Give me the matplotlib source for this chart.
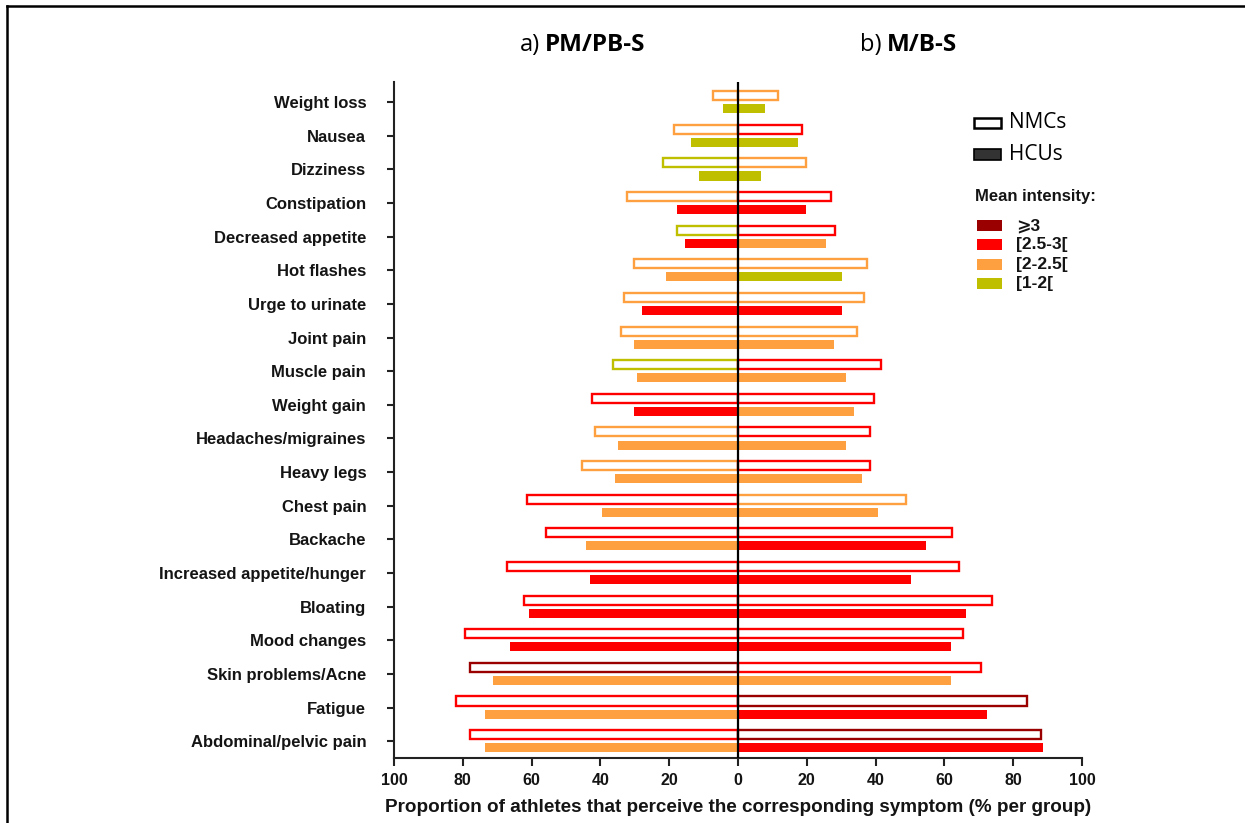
import matplotlib
matplotlib.use("Agg")
import matplotlib.pyplot as plt
from matplotlib.patches import Rectangle
from matplotlib.lines import Line2D

W, H = 1245, 823

symptoms = ["Weight loss", "Nausea", "Dizziness", "Constipation", "Decreased appetite",
            "Hot flashes", "Urge to urinate", "Joint pain", "Muscle pain", "Weight gain",
            "Headaches/migraines", "Heavy legs", "Chest pain", "Backache",
            "Increased appetite/hunger", "Bloating", "Mood changes", "Skin problems/Acne",
            "Fatigue", "Abdominal/pelvic pain"]

# a) PM/PB-S (left side)
pm_nmc = [7.3, 18.7, 21.8, 32.2, 17.6, 30.1, 33.0, 34.0, 36.4, 42.4,
          41.5, 45.4, 61.2, 55.9, 67.2, 62.2, 79.5, 77.8, 82.0, 77.8]
pm_nmc_int = ["2-2.5", "2-2.5", "1-2", "2-2.5", "1-2", "2-2.5", "2-2.5", "2-2.5", "1-2", "2.5-3",
              "2-2.5", "2-2.5", "2.5-3", "2.5-3", "2.5-3", "2.5-3", "2.5-3", "3", "2.5-3", "2.5-3"]
pm_hcu = [4.3, 13.8, 11.4, 17.6, 15.3, 20.8, 27.9, 30.1, 29.3, 30.3,
          35.0, 35.9, 39.6, 44.2, 42.9, 60.7, 66.4, 71.1, 73.6, 73.6]
pm_hcu_int = ["1-2", "1-2", "1-2", "2.5-3", "2.5-3", "2-2.5", "2.5-3", "2-2.5", "2-2.5", "2.5-3",
              "2-2.5", "2-2.5", "2-2.5", "2-2.5", "2.5-3", "2.5-3", "2.5-3", "2-2.5", "2-2.5", "2-2.5"]

# b) M/B-S (right side)
mb_nmc = [11.6, 18.6, 19.7, 27.0, 28.2, 37.4, 36.5, 34.5, 41.5, 39.4,
          38.4, 38.4, 48.8, 62.2, 64.2, 73.7, 65.3, 70.7, 84.1, 88.2]
mb_nmc_int = ["2-2.5", "2.5-3", "2-2.5", "2.5-3", "2.5-3", "2-2.5", "2-2.5", "2-2.5", "2.5-3", "2.5-3",
              "2.5-3", "2.5-3", "2-2.5", "2.5-3", "2.5-3", "2.5-3", "2.5-3", "2.5-3", "3", "3"]
mb_hcu = [7.9, 17.5, 6.6, 19.9, 25.5, 30.1, 30.1, 27.9, 31.5, 33.8,
          31.5, 36.1, 40.8, 54.7, 50.3, 66.4, 61.8, 61.8, 72.5, 88.8]
mb_hcu_int = ["1-2", "1-2", "1-2", "2.5-3", "2-2.5", "1-2", "2.5-3", "2-2.5", "2-2.5", "2-2.5",
              "2-2.5", "2-2.5", "2-2.5", "2.5-3", "2.5-3", "2.5-3", "2.5-3", "2-2.5", "2.5-3", "2.5-3"]

intensity_classes = ["3", "2.5-3", "2-2.5", "1-2"]
intensity_labels = ["\u2a7e3", "[2.5-3[", "[2-2.5[", "[1-2["]
COLORS = {"3": "#9b0000", "2.5-3": "#ff0000", "2-2.5": "#ffa040", "1-2": "#bfbf00"}

ticks = [-100, -80, -60, -40, -20, 0, 20, 40, 60, 80, 100]
tick_labels = ["100", "80", "60", "40", "20", "0", "20", "40", "60", "80", "100"]

BOLD = dict(family=["Liberation Sans", "DejaVu Sans"], fontweight="bold")
INK = "#141414"


def fx(px):
    return px / W


def fy(py):
    return 1 - py / H


fig = plt.figure(figsize=(W / 100, H / 100), dpi=100)
fig.patch.set_facecolor("white")
ax = fig.add_axes([fx(394), fy(758), fx(1082) - fx(394), fy(82) - fy(758)])

ys = list(range(len(symptoms)))
bh = 0.27
off = 0.195
lw_box = 1.7

# NMCs: open bars, HCUs: filled bars
ax.barh([y - off for y in ys], [-v for v in pm_nmc], height=bh, color="white",
        edgecolor=[COLORS[c] for c in pm_nmc_int], linewidth=lw_box)
ax.barh([y - off for y in ys], mb_nmc, height=bh, color="white",
        edgecolor=[COLORS[c] for c in mb_nmc_int], linewidth=lw_box)
ax.barh([y + off for y in ys], [-v for v in pm_hcu], height=bh,
        color=[COLORS[c] for c in pm_hcu_int], linewidth=0)
ax.barh([y + off for y in ys], mb_hcu, height=bh,
        color=[COLORS[c] for c in mb_hcu_int], linewidth=0)

ax.axvline(0, color="black", lw=1.6, zorder=5)

ax.set_xlim(-100, 100)
ax.set_ylim(len(symptoms) - 0.5, -0.6)
ax.set_yticks(ys)
ax.set_yticklabels(symptoms, fontsize=12, color=INK, **BOLD)
ax.set_xticks(ticks)
ax.set_xticklabels(tick_labels, fontsize=11.5, color=INK, **BOLD)
for s in ["top", "right"]:
    ax.spines[s].set_visible(False)
for s in ["left", "bottom"]:
    ax.spines[s].set_linewidth(1.5)
    ax.spines[s].set_color("#222222")
ax.tick_params(axis="y", length=5, width=1.5, pad=15, color="#222222")
ax.tick_params(axis="x", length=6, width=1.5, pad=5, color="#222222")
ax.set_xlabel("Proportion of athletes that perceive the corresponding symptom (% per group)",
              fontsize=13.6, labelpad=8, color=INK, **BOLD)

# panel titles
fig.text(fx(520), fy(45), "a)", fontsize=17, family="Open Sans", va="center", ha="left")
fig.text(fx(545), fy(45), "PM/PB-S", fontsize=17.5, family="Open Sans", fontweight="bold",
         va="center", ha="left")
fig.text(fx(860), fy(45), "b)", fontsize=17, family="Open Sans", va="center", ha="left")
fig.text(fx(887), fy(45), "M/B-S", fontsize=17.5, family="Open Sans", fontweight="bold",
         va="center", ha="left")

# legend, drawn by hand
fig.patches.append(Rectangle((fx(974), fy(128)), fx(1001) - fx(974), fy(118) - fy(128),
                             transform=fig.transFigure, facecolor="white",
                             edgecolor="black", linewidth=1.8))
fig.patches.append(Rectangle((fx(974), fy(160)), fx(1001) - fx(974), fy(149) - fy(160),
                             transform=fig.transFigure, facecolor="#333333",
                             edgecolor="black", linewidth=1.2))
fig.text(fx(1009), fy(123), "NMCs", fontsize=15, family="Open Sans", va="center")
fig.text(fx(1009), fy(154), "HCUs", fontsize=15, family="Open Sans", va="center")
fig.text(fx(975), fy(196), "Mean intensity:", fontsize=12, va="center", color=INK, **BOLD)
for i, (cls, lab) in enumerate(zip(intensity_classes, intensity_labels)):
    top = 220 + i * 19.3
    fig.patches.append(Rectangle((fx(977), fy(top + 11)), fx(1002) - fx(977), fy(top) - fy(top + 11),
                                 transform=fig.transFigure, facecolor=COLORS[cls],
                                 edgecolor="none"))
    fig.text(fx(1016), fy(top + 5.5), lab, fontsize=12.5, va="center", color=INK, **BOLD)

# screenshot frame
fig.add_artist(Line2D([fx(7), 1], [fy(6), fy(6)], transform=fig.transFigure,
                      color="black", lw=1.8))
fig.add_artist(Line2D([fx(7), fx(7)], [fy(6), 0], transform=fig.transFigure,
                      color="black", lw=1.8))

fig.savefig("out.png", dpi=100, facecolor="white")
